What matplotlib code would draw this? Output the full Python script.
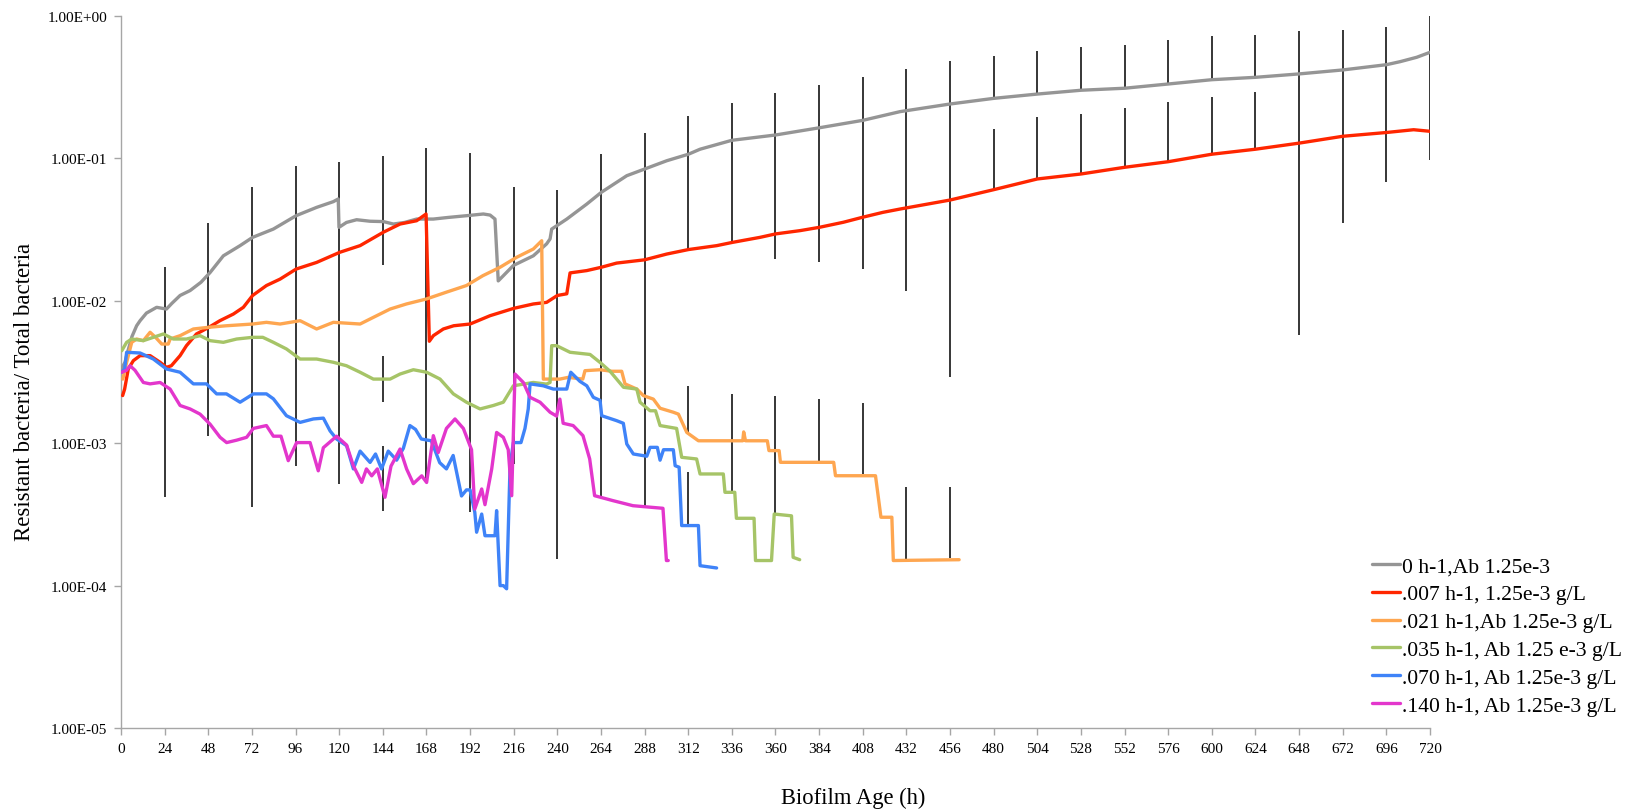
import matplotlib
matplotlib.use("Agg")
import matplotlib.pyplot as plt
from matplotlib.ticker import FixedLocator, FixedFormatter, NullLocator

plt.rcParams['font.family'] = ['Liberation Serif', 'DejaVu Serif']

# ---------------------------------------------------------------- data
series_labels = [
    "0 h-1,Ab 1.25e-3",
    ".007 h-1, 1.25e-3 g/L",
    ".021 h-1,Ab 1.25e-3 g/L",
    ".035 h-1, Ab 1.25 e-3 g/L",
    ".070 h-1, Ab 1.25e-3 g/L",
    ".140 h-1, Ab 1.25e-3 g/L",
]
series_colors = ["#959595", "#ff2600", "#fea650", "#a6c467", "#3f83f8", "#e336cc"]

grey_t = [0, 2.2, 3.1, 6, 8.6, 10.5, 14, 19.6, 25, 28, 32.5, 38, 44, 49, 56.3, 65.5,
          72.4, 83.8, 96.3, 107.6, 116.8, 119.5, 119.9, 124, 129.6, 137, 144.3, 149.8,
          156, 162.6, 171.8, 180, 190.1, 199.3, 203, 205.7, 207.5, 210.3, 215.8, 226.8,
          234.1, 236, 236.9, 245.2, 256.2, 264.2, 278.2, 288.1, 300.2, 312.1, 318.5,
          336, 360, 384, 408, 428.5, 456, 480, 504, 528, 552, 576, 600, 624, 648, 672,
          696, 703.6, 712.7, 720]
grey_v = [3.3e-3, 3.7e-3, 4.12e-3, 5.6e-3, 6.68e-3, 7.25e-3, 8.2e-3, 9.0e-3, 8.75e-3,
          9.6e-3, 1.09e-2, 1.18e-2, 1.35e-2, 1.58e-2, 2.07e-2, 2.44e-2, 2.79e-2, 3.19e-2,
          3.96e-2, 4.53e-2, 4.97e-2, 5.19e-2, 3.28e-2, 3.55e-2, 3.71e-2, 3.62e-2, 3.60e-2,
          3.46e-2, 3.55e-2, 3.75e-2, 3.75e-2, 3.85e-2, 3.96e-2, 4.07e-2, 4.0e-2, 3.75e-2,
          1.38e-2, 1.50e-2, 1.77e-2, 2.07e-2, 2.51e-2, 2.72e-2, 3.19e-2, 3.75e-2, 4.78e-2,
          5.78e-2, 7.56e-2, 8.43e-2, 9.63e-2, 0.107, 0.116, 0.134, 0.146, 0.164, 0.185,
          0.213, 0.241, 0.264, 0.283, 0.301, 0.311, 0.333, 0.357, 0.371, 0.392, 0.418,
          0.455, 0.478, 0.513, 0.556]

red_t = [0.9, 2, 4, 6.8, 10.5, 16, 21.5, 25, 27.7, 32.5, 36, 41.5, 48.4, 54.4, 61.8,
         67.3, 72.4, 80, 87.5, 96.3, 107.6, 120.3, 131.5, 144.3, 153.5, 162.6, 167.8,
         169.6, 171.8, 177.3, 183, 192, 203, 216, 226.8, 234.1, 240, 245.2, 247, 256.2,
         264.2, 272.6, 288, 300.2, 312.1, 327.7, 336.2, 351.5, 360.1, 373.5, 384.1,
         397.3, 407.9, 419.1, 428.5, 456, 480, 504, 528, 552, 576, 600, 624, 648, 672,
         696, 711, 720]
red_v = [2.16e-3, 2.4e-3, 3.32e-3, 3.8e-3, 4.12e-3, 4.12e-3, 3.70e-3, 3.41e-3, 3.50e-3,
         4.12e-3, 4.84e-3, 5.85e-3, 6.52e-3, 7.25e-3, 8.07e-3, 9.0e-3, 1.09e-2, 1.28e-2,
         1.42e-2, 1.67e-2, 1.86e-2, 2.19e-2, 2.44e-2, 3.03e-2, 3.46e-2, 3.65e-2, 4.07e-2,
         5.2e-3, 5.69e-3, 6.34e-3, 6.68e-3, 6.87e-3, 7.86e-3, 8.85e-3, 9.50e-3, 9.75e-3,
         1.09e-2, 1.12e-2, 1.57e-2, 1.63e-2, 1.72e-2, 1.84e-2, 1.94e-2, 2.13e-2, 2.29e-2,
         2.44e-2, 2.57e-2, 2.79e-2, 2.95e-2, 3.11e-2, 3.28e-2, 3.56e-2, 3.86e-2, 4.18e-2,
         4.41e-2, 5.10e-2, 6.03e-2, 7.17e-2, 7.77e-2, 8.66e-2, 9.48e-2, 0.107, 0.116,
         0.128, 0.143, 0.152, 0.159, 0.155]

orange_t = [1, 3.1, 5.9, 8.6, 12.3, 16, 19, 22.4, 26, 27, 32.5, 39.8, 48.4, 58, 72.4, 80,
            87.5, 98.5, 107.6, 116.8, 131.5, 138.8, 148, 157, 168, 179, 190, 199, 208.5,
            217.6, 226.8, 231.4, 232.3, 241.4, 246, 254, 255.2, 263.5, 270, 275.4, 277.2,
            283.7, 287.3, 292.8, 296.5, 303.8, 306.6, 311.2, 317.6, 342, 342.5, 343.5,
            355.5, 356.4, 362, 362.7, 392, 393, 415, 418, 424, 424.8, 461]
orange_v = [2.82e-3, 3.7e-3, 5.11e-3, 5.39e-3, 5.25e-3, 6.01e-3, 5.54e-3, 4.97e-3, 4.97e-3,
            5.39e-3, 5.69e-3, 6.34e-3, 6.52e-3, 6.68e-3, 6.87e-3, 7.06e-3, 6.87e-3, 7.25e-3,
            6.34e-3, 7.06e-3, 6.87e-3, 7.65e-3, 8.75e-3, 9.5e-3, 1.03e-2, 1.15e-2, 1.28e-2,
            1.50e-2, 1.72e-2, 2.02e-2, 2.31e-2, 2.64e-2, 2.82e-3, 2.82e-3, 2.90e-3, 2.82e-3,
            3.23e-3, 3.28e-3, 3.20e-3, 3.20e-3, 2.61e-3, 2.40e-3, 2.16e-3, 2.04e-3, 1.76e-3,
            1.65e-3, 1.60e-3, 1.19e-3, 1.04e-3, 1.04e-3, 1.20e-3, 1.04e-3, 1.04e-3, 8.87e-4,
            8.87e-4, 7.34e-4, 7.34e-4, 5.91e-4, 5.91e-4, 3.02e-4, 3.02e-4, 1.50e-4, 1.52e-4]

green_t = [0.4, 3.1, 5.9, 12.3, 17.8, 23.3, 28.8, 36, 43.5, 49, 56.3, 63.6, 72.4, 78,
           83.8, 91, 98.5, 107.6, 116.8, 124, 131.5, 138.8, 148, 153.5, 160.8, 168.1,
           175.5, 182.8, 190, 197.5, 204.8, 210.3, 215.8, 226.8, 234, 236, 236.9, 239.6,
           247, 258, 263.5, 269, 276.4, 283.7, 285.5, 291, 294, 296.5, 305.6, 308.4,
           316.6, 318.5, 331.3, 332.2, 337.6, 338.5, 348.2, 349, 357.8, 359.3, 368.8,
           369.7, 373.3]
green_v = [4.46e-3, 5.11e-3, 5.39e-3, 5.25e-3, 5.54e-3, 5.85e-3, 5.39e-3, 5.39e-3,
           5.69e-3, 5.25e-3, 5.11e-3, 5.39e-3, 5.54e-3, 5.54e-3, 5.11e-3, 4.59e-3,
           3.90e-3, 3.90e-3, 3.70e-3, 3.50e-3, 3.15e-3, 2.82e-3, 2.82e-3, 3.06e-3,
           3.28e-3, 3.15e-3, 2.82e-3, 2.22e-3, 1.94e-3, 1.74e-3, 1.84e-3, 1.94e-3,
           2.53e-3, 2.67e-3, 2.60e-3, 2.67e-3, 4.84e-3, 4.84e-3, 4.35e-3, 4.20e-3,
           3.69e-3, 3.20e-3, 2.47e-3, 2.40e-3, 1.94e-3, 1.69e-3, 1.69e-3, 1.33e-3,
           1.27e-3, 7.96e-4, 7.75e-4, 6.08e-4, 6.08e-4, 4.52e-4, 4.52e-4, 2.97e-4,
           2.97e-4, 1.50e-4, 1.50e-4, 3.18e-4, 3.09e-4, 1.58e-4, 1.52e-4]

blue_t = [0.4, 2, 3.1, 10.5, 17.8, 25, 32.5, 39.8, 47, 52.6, 58, 65.5, 72.8, 80, 83.8,
          91, 98.5, 105.8, 111.3, 115, 118.6, 124.1, 127.8, 131.5, 137, 140, 143.3, 147,
          151.6, 155.3, 158.9, 162, 165.2, 170.7, 175.3, 179, 182.7, 187.3, 190, 192,
          194.6, 195.6, 198.4, 200.2, 205.7, 206.6, 208.5, 210.3, 212.1, 214, 215.8,
          220, 222.2, 224, 225, 232.3, 237.8, 245.2, 247.4, 252.4, 256.2, 259.8, 263.5,
          264.4, 272.6, 276.3, 278.2, 281.8, 289.2, 291, 295, 296.5, 298.4, 303.8,
          304.8, 307, 308.4, 317.6, 318.5, 327.6]
blue_v = [3.15e-3, 3.32e-3, 4.35e-3, 4.30e-3, 3.90e-3, 3.32e-3, 3.15e-3, 2.61e-3,
          2.61e-3, 2.22e-3, 2.22e-3, 1.94e-3, 2.22e-3, 2.22e-3, 2.05e-3, 1.56e-3,
          1.40e-3, 1.48e-3, 1.50e-3, 1.22e-3, 1.07e-3, 9.6e-4, 6.6e-4, 8.8e-4, 7.33e-4,
          8.4e-4, 6.6e-4, 8.8e-4, 7.6e-4, 9.2e-4, 1.33e-3, 1.25e-3, 1.07e-3, 1.04e-3,
          7.3e-4, 6.6e-4, 8.2e-4, 4.26e-4, 4.7e-4, 4.7e-4, 3.27e-4, 2.37e-4, 3.18e-4,
          2.24e-4, 2.24e-4, 3.36e-4, 1.0e-4, 1.0e-4, 9.5e-5, 6.95e-4, 1.01e-3, 1.01e-3,
          1.27e-3, 1.74e-3, 2.61e-3, 2.53e-3, 2.40e-3, 2.40e-3, 3.15e-3, 2.72e-3,
          2.53e-3, 2.10e-3, 2.00e-3, 1.56e-3, 1.44e-3, 1.38e-3, 9.87e-4, 8.40e-4,
          8.1e-4, 9.35e-4, 9.35e-4, 7.6e-4, 9.0e-4, 9.0e-4, 6.95e-4, 6.78e-4, 2.64e-4,
          2.64e-4, 1.38e-4, 1.33e-4]

magenta_t = [0.4, 3, 5, 7.7, 12.3, 16, 21.5, 27, 32.5, 38, 43.5, 49, 54.5, 58.1, 63.6,
             69.1, 72.8, 80, 83.8, 88, 92, 96.6, 104, 108.5, 111.3, 118.6, 124.1, 127.8,
             132.4, 135, 137.9, 141, 145.2, 148.5, 153.5, 157.1, 160.8, 165.4, 168.1,
             171.8, 174.5, 179, 183.7, 188.3, 192.8, 194.6, 198.4, 200.2, 203.9, 206.6,
             210.3, 213, 214.9, 216.7, 221.3, 225, 230.5, 236, 239.6, 241.4, 243.2,
             248.7, 254.1, 257.8, 260.5, 270.6, 281.6, 298.1, 300, 301]
magenta_v = [3.15e-3, 3.25e-3, 3.50e-3, 3.25e-3, 2.67e-3, 2.61e-3, 2.67e-3, 2.40e-3,
             1.84e-3, 1.74e-3, 1.60e-3, 1.36e-3, 1.10e-3, 1.01e-3, 1.05e-3, 1.10e-3,
             1.27e-3, 1.33e-3, 1.12e-3, 1.12e-3, 7.54e-4, 1.01e-3, 1.01e-3, 6.4e-4,
             9.3e-4, 1.12e-3, 9.7e-4, 6.95e-4, 5.31e-4, 6.6e-4, 5.9e-4, 6.6e-4, 4.17e-4,
             6.9e-4, 9.1e-4, 6.59e-4, 5.2e-4, 5.9e-4, 5.3e-4, 1.13e-3, 8.6e-4, 1.27e-3,
             1.48e-3, 1.27e-3, 9.0e-4, 3.45e-4, 4.77e-4, 3.7e-4, 6.59e-4, 1.19e-3,
             1.10e-3, 9.0e-4, 4.28e-4, 3.06e-3, 2.67e-3, 2.10e-3, 1.94e-3, 1.65e-3,
             1.55e-3, 2.04e-3, 1.38e-3, 1.33e-3, 1.13e-3, 7.75e-4, 4.28e-4, 3.95e-4,
             3.64e-4, 3.49e-4, 1.5e-4, 1.5e-4]

# error bar segments: time, lower end, upper end
err_t = [24, 48, 72, 96, 120,
         144, 144, 144,
         168, 192, 216, 240, 264, 288,
         312, 312, 312,
         336, 336, 360, 360, 384, 384, 408, 408,
         432, 432, 456, 456,
         480, 480, 504, 504, 528, 528, 552, 552, 576, 576, 600, 600, 624, 624,
         648, 672, 696, 720]
err_lo = [4.21e-4, 1.13e-3, 3.55e-4, 6.95e-4, 5.17e-4,
          1.77e-2, 1.94e-3, 3.36e-4,
          5.5e-4, 3.3e-4, 7.2e-4, 1.54e-4, 4.28e-4, 3.64e-4,
          2.31e-2, 1.19e-3, 2.64e-4,
          2.57e-2, 4.54e-4, 1.97e-2, 3.18e-4, 1.86e-2, 7.54e-4, 1.67e-2, 6.08e-4,
          1.17e-2, 1.54e-4, 2.92e-3, 1.55e-4,
          0.264, 6.03e-2, 0.283, 7.17e-2, 0.301, 7.77e-2, 0.311, 8.66e-2, 0.333,
          9.48e-2, 0.357, 0.107, 0.371, 0.116,
          5.75e-3, 3.52e-2, 6.83e-2, 9.75e-2]
err_hi = [1.72e-2, 3.52e-2, 6.27e-2, 8.8e-2, 9.4e-2,
          0.104, 4.11e-3, 9.6e-4,
          0.118, 0.11, 6.3e-2, 6.0e-2, 0.107, 0.152,
          0.198, 2.53e-3, 6.31e-4,
          0.243, 2.22e-3, 0.288, 2.16e-3, 0.329, 2.04e-3, 0.371, 1.91e-3,
          0.425, 4.90e-4, 0.483, 4.95e-4,
          0.526, 0.161, 0.568, 0.194, 0.603, 0.205, 0.626, 0.226, 0.675, 0.248,
          0.720, 0.271, 0.739, 0.291,
          0.780, 0.797, 0.841, 1.0]

x_ticks = list(range(0, 721, 24))
y_ticks = [1e-5, 1e-4, 1e-3, 1e-2, 1e-1, 1e0]
y_tick_labels = ["1.00E-05", "1.00E-04", "1.00E-03", "1.00E-02", "1.00E-01", "1.00E+00"]

# ---------------------------------------------------------------- figure
W, H = 1640, 812
fig = plt.figure(figsize=(W / 100, H / 100), dpi=100)
ax = fig.add_axes([121 / W, 1 - 729 / H, 1309 / W, 712 / H])
ax.set_yscale('log')
ax.set_xlim(0, 720)
ax.set_ylim(1e-5, 1)

ax.vlines(err_t, err_lo, err_hi, colors='black', linewidth=1.1, zorder=1)

all_t = [grey_t, red_t, orange_t, green_t, blue_t, magenta_t]
all_v = [grey_v, red_v, orange_v, green_v, blue_v, magenta_v]
for t, v, c, lab in zip(all_t, all_v, series_colors, series_labels):
    ax.plot(t, v, color=c, linewidth=2.4, label=lab, zorder=3,
            solid_joinstyle='round', solid_capstyle='round')

spine_col = '#a6a6a6'
for side in ('top', 'right'):
    ax.spines[side].set_visible(False)
for side in ('left', 'bottom'):
    ax.spines[side].set_color(spine_col)
    ax.spines[side].set_linewidth(1.0)

ax.xaxis.set_major_locator(FixedLocator(x_ticks))
ax.set_xticklabels([str(v) for v in x_ticks])
ax.yaxis.set_major_locator(FixedLocator(y_ticks))
ax.yaxis.set_major_formatter(FixedFormatter(y_tick_labels))
ax.yaxis.set_minor_locator(NullLocator())
ax.xaxis.set_minor_locator(NullLocator())
ax.tick_params(axis='both', which='major', direction='out', length=5, width=1.0,
               color=spine_col, labelsize=11, labelcolor='black')
ax.tick_params(axis='x', pad=5)
ax.tick_params(axis='y', pad=5)

fig.text(25 / W, 1 - 392 / H, "Resistant bacteria/ Total bacteria", rotation=90,
         ha='center', va='center', fontsize=16.5)
fig.text(853 / W, 1 - 798 / H, "Biofilm Age (h)", ha='center', va='center',
         fontsize=16.3)

fig.legend(loc='upper left', bbox_to_anchor=(1372 / W, 1 - 557 / H),
           bbox_transform=fig.transFigure, frameon=False, fontsize=15.6,
           handlelength=1.3, handletextpad=0.1, labelspacing=0.36,
           borderpad=0, borderaxespad=0)

fig.savefig('out.png', dpi=100)
